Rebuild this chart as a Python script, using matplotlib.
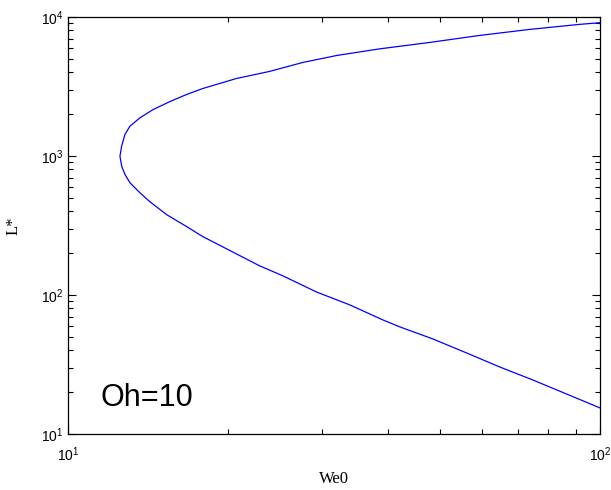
import matplotlib
matplotlib.use("Agg")
import matplotlib.pyplot as plt
from matplotlib.ticker import LogLocator, NullFormatter

# values (upper branch -> nose -> lower branch)
we0 = [100, 91.5, 73.7, 59.4, 47.8, 38.5, 32.0, 27.6, 23.9, 20.7, 17.9,
       16.68, 15.51, 14.43, 13.63, 13.05, 12.77, 12.59, 12.5, 12.6, 12.78,
       13.05, 13.62, 14.23, 15.31, 16.7, 17.9, 22.9, 25.3, 29.3, 33.8, 39.0,
       42.0, 48.4, 56.1, 64.7, 74.7, 86.5, 100]
lstar = [9100, 8850, 8140, 7370, 6560, 5900, 5290, 4710, 4060, 3610,
         3060, 2770, 2460, 2158, 1882, 1637, 1426, 1175, 995, 839, 735, 643,
         545, 469, 378, 310, 263, 162, 137.5, 105, 85, 66.3, 59, 48.4, 38.3,
         30.4, 24.5, 19.4, 15.4]

plt.rcParams['font.family'] = ['Liberation Sans', 'DejaVu Sans']
plt.rcParams['mathtext.fontset'] = 'custom'
plt.rcParams['mathtext.rm'] = 'Liberation Sans'

fig = plt.figure(figsize=(6.11, 4.90), dpi=100)
ax = fig.add_axes([0.112, 0.1143, 0.870, 0.851])

ax.plot(we0, lstar, color='#0000ff', linewidth=0.9)
ax.set_xscale('log')
ax.set_yscale('log')
ax.set_xlim(10, 100)
ax.set_ylim(10, 1e4)

ax.xaxis.set_minor_locator(LogLocator(base=10, subs=range(2, 10)))
ax.yaxis.set_minor_locator(LogLocator(base=10, subs=range(2, 10)))
ax.xaxis.set_minor_formatter(NullFormatter())
ax.yaxis.set_minor_formatter(NullFormatter())
ax.tick_params(which='both', direction='in', top=True, right=True,
               labelsize=10, width=0.8)
ax.tick_params(which='major', length=6)
ax.tick_params(which='minor', length=3.5)
ax.tick_params(axis='x', pad=8)
for s in ax.spines.values():
    s.set_linewidth(0.9)

ax.set_xlabel('We0', family='Liberation Serif', fontsize=12, labelpad=5)
ax.set_ylabel('L*', family='Liberation Serif', fontsize=12, labelpad=14)

ax.text(0.06, 0.086, 'Oh=10', transform=ax.transAxes, fontsize=22,
        va='center', ha='left')

fig.savefig('out.png', dpi=100)
